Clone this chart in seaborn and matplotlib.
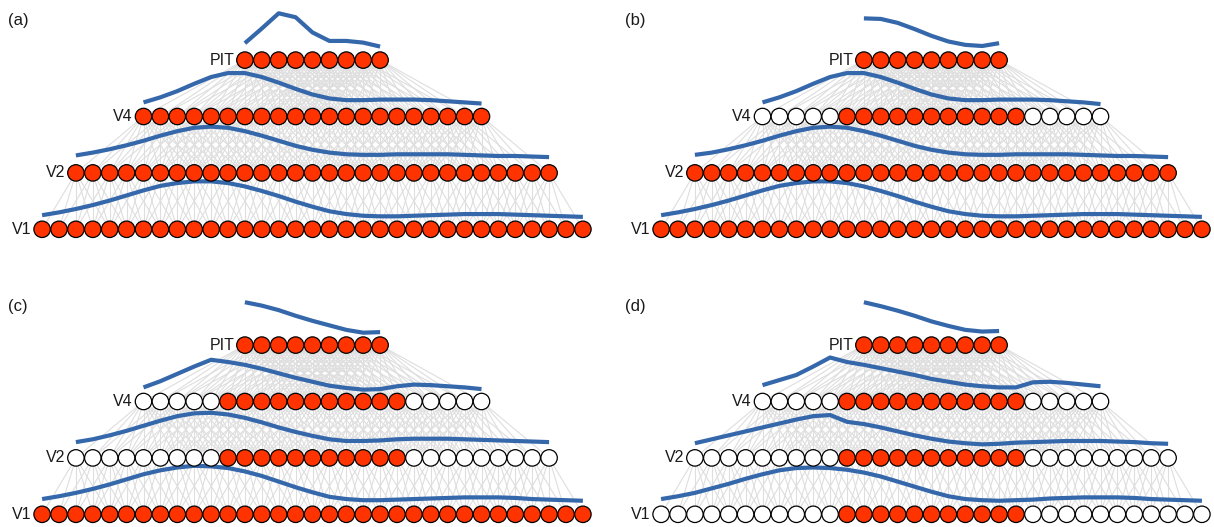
import numpy as np
import pandas as pd
import matplotlib
matplotlib.use("Agg")
import matplotlib.pyplot as plt
import seaborn as sns
from matplotlib.collections import LineCollection

sns.set_theme(style="white")
plt.rcParams['font.family'] = ['Liberation Sans', 'DejaVu Sans']

# ---------------- data ----------------
layers = ["V1", "V2", "V4", "PIT"]
layer_sizes = [33, 29, 21, 9]
panel_labels = ["(a)", "(b)", "(c)", "(d)"]

# number of inactive (white) units at each end of a layer, per panel (V1, V2, V4, PIT)
inactive_margin_a = [0, 0, 0, 0]
inactive_margin_b = [0, 0, 5, 0]
inactive_margin_c = [0, 9, 5, 0]
inactive_margin_d = [11, 9, 5, 0]

# activation profiles (height above row, in units of layer spacing)
curve_a_V1 = [0.25, 0.30, 0.36, 0.43, 0.51, 0.60, 0.69, 0.77, 0.82, 0.85, 0.85, 0.82, 0.76, 0.68, 0.59, 0.49, 0.40,
              0.32, 0.27, 0.24, 0.23, 0.23, 0.24, 0.25, 0.26, 0.27, 0.27, 0.27, 0.26, 0.25, 0.24, 0.23, 0.22]
curve_a_V2 = [0.31, 0.36, 0.42, 0.49, 0.57, 0.66, 0.74, 0.80, 0.82, 0.80, 0.74, 0.66, 0.57, 0.48, 0.41, 0.36, 0.33,
              0.32, 0.32, 0.33, 0.33, 0.33, 0.33, 0.32, 0.31, 0.30, 0.30, 0.29, 0.28]
curve_a_V4 = [0.25, 0.34, 0.45, 0.58, 0.70, 0.77, 0.77, 0.70, 0.60, 0.49, 0.39, 0.32, 0.29, 0.29, 0.30, 0.30, 0.30,
              0.29, 0.27, 0.25, 0.23]
curve_a_PIT = [0.30, 0.56, 0.83, 0.76, 0.49, 0.34, 0.34, 0.31, 0.24]

curve_b_V1 = [0.25, 0.30, 0.36, 0.43, 0.51, 0.60, 0.69, 0.77, 0.82, 0.85, 0.85, 0.82, 0.76, 0.68, 0.59, 0.49, 0.40,
              0.32, 0.27, 0.24, 0.23, 0.23, 0.24, 0.25, 0.26, 0.27, 0.27, 0.27, 0.26, 0.25, 0.24, 0.23, 0.22]
curve_b_V2 = [0.32, 0.36, 0.42, 0.49, 0.57, 0.66, 0.74, 0.80, 0.82, 0.80, 0.74, 0.66, 0.57, 0.48, 0.41, 0.36, 0.33,
              0.32, 0.32, 0.33, 0.33, 0.33, 0.33, 0.32, 0.31, 0.30, 0.30, 0.29, 0.28]
curve_b_V4 = [0.25, 0.34, 0.45, 0.58, 0.70, 0.77, 0.77, 0.70, 0.60, 0.49, 0.39, 0.32, 0.29, 0.29, 0.30, 0.30, 0.30,
              0.29, 0.27, 0.25, 0.22]
curve_b_PIT = [0.74, 0.73, 0.66, 0.55, 0.43, 0.33, 0.27, 0.25, 0.30]

curve_c_V1 = [0.27, 0.32, 0.38, 0.45, 0.53, 0.62, 0.71, 0.78, 0.83, 0.86, 0.85, 0.82, 0.76, 0.68, 0.58, 0.48, 0.39,
              0.31, 0.27, 0.25, 0.25, 0.26, 0.27, 0.28, 0.29, 0.30, 0.30, 0.30, 0.29, 0.27, 0.26, 0.25, 0.24]
curve_c_V2 = [0.28, 0.33, 0.40, 0.48, 0.57, 0.66, 0.74, 0.79, 0.80, 0.77, 0.71, 0.63, 0.54, 0.46, 0.39, 0.33, 0.30,
              0.30, 0.31, 0.33, 0.34, 0.34, 0.34, 0.33, 0.32, 0.31, 0.30, 0.29, 0.28]
curve_c_V4 = [0.25, 0.36, 0.49, 0.62, 0.74, 0.70, 0.65, 0.58, 0.50, 0.42, 0.35, 0.28, 0.24, 0.21, 0.22, 0.27, 0.30,
              0.29, 0.27, 0.25, 0.22]
curve_c_PIT = [0.76, 0.70, 0.62, 0.52, 0.43, 0.35, 0.27, 0.22, 0.23]

curve_d_V1 = [0.27, 0.32, 0.38, 0.46, 0.54, 0.63, 0.71, 0.78, 0.82, 0.83, 0.82, 0.79, 0.74, 0.67, 0.58, 0.49, 0.40,
              0.32, 0.27, 0.25, 0.24, 0.25, 0.26, 0.28, 0.29, 0.30, 0.30, 0.30, 0.29, 0.27, 0.26, 0.25, 0.24]
curve_d_V2 = [0.26, 0.33, 0.40, 0.47, 0.54, 0.61, 0.68, 0.74, 0.76, 0.64, 0.60, 0.54, 0.47, 0.40, 0.34, 0.29, 0.26,
              0.24, 0.25, 0.27, 0.28, 0.29, 0.30, 0.30, 0.30, 0.29, 0.28, 0.26, 0.25]
curve_d_V4 = [0.29, 0.38, 0.47, 0.62, 0.78, 0.70, 0.65, 0.59, 0.53, 0.47, 0.40, 0.35, 0.30, 0.27, 0.25, 0.25, 0.34,
              0.35, 0.33, 0.30, 0.27]
curve_d_PIT = [0.76, 0.69, 0.61, 0.52, 0.42, 0.34, 0.27, 0.24, 0.25]

panels = [
    (inactive_margin_a, [curve_a_V1, curve_a_V2, curve_a_V4, curve_a_PIT]),
    (inactive_margin_b, [curve_b_V1, curve_b_V2, curve_b_V4, curve_b_PIT]),
    (inactive_margin_c, [curve_c_V1, curve_c_V2, curve_c_V4, curve_c_PIT]),
    (inactive_margin_d, [curve_d_V1, curve_d_V2, curve_d_V4, curve_d_PIT]),
]

# ---------------- style / layout ----------------
W, H = 1214, 527
RED = "#ff3300"
BLUE = "#3567ab"
GRAY = "#dedede"
NODE_DX = 16.9     # px per node
LAYER_DY = 56.4    # px per layer
panel_px = [  # (x0, y0, width, height, center_x, row_V1_y, label_x, label_y)
    (0, 0, 607, 263.5, 312.5, 229.3, 8, 21),
    (607, 0, 607, 263.5, 931.5, 229.3, 625, 21),
    (0, 263.5, 607, 263.5, 312.5, 514.3, 8, 307),
    (607, 263.5, 607, 263.5, 931.5, 514.3, 625, 307),
]

fig = plt.figure(figsize=(W / 100, H / 100), dpi=100)
fig.patch.set_facecolor("white")

for (margins, curves), lab, (x0, y0, pw, ph, cx, ry, lx, ly) in zip(panels, panel_labels, panel_px):
    ax = fig.add_axes([x0 / W, 1 - (y0 + ph) / H, pw / W, ph / H])
    ax.set_xlim((x0 - cx) / NODE_DX, (x0 + pw - cx) / NODE_DX)
    ax.set_ylim((ry - (y0 + ph)) / LAYER_DY, (ry - y0) / LAYER_DY)
    ax.set_axis_off()

    xs = [np.arange(n) - (n - 1) / 2 for n in layer_sizes]

    # connections between consecutive layers (local receptive fields)
    segs = []
    for li in range(len(layers) - 1):
        lo, up = layer_sizes[li], layer_sizes[li + 1]
        fan = lo - up + 1
        for j in range(up):
            for k in range(j, j + fan):
                segs.append([(xs[li + 1][j], li + 1), (xs[li][k], li)])
    ax.add_collection(LineCollection(segs, colors=GRAY, linewidths=0.8, zorder=1))

    for li, (name, n) in enumerate(zip(layers, layer_sizes)):
        m = margins[li]
        active = [(m <= i < n - m) for i in range(n)]
        df = pd.DataFrame({"x": xs[li], "y": np.full(n, float(li)), "active": active,
                           "curve": li + np.array(curves[li])})
        sns.lineplot(data=df, x="x", y="curve", ax=ax, color=BLUE, lw=3.0, sort=True,
                     solid_capstyle="butt", zorder=3)
        sns.scatterplot(data=df, x="x", y="y", hue="active", palette={True: RED, False: "white"},
                        hue_order=[True, False], s=140, edgecolor="black", linewidth=0.9,
                        legend=False, ax=ax, zorder=4)
        ax.text(xs[li][0] - 0.62, li, name, ha="right", va="center", fontsize=11.5, color="#1a1a1a")

    ax.text((lx - x0) / pw, 1 - (ly - y0) / ph, lab, transform=ax.transAxes, ha="left", va="center",
            fontsize=12, color="#1a1a1a")

fig.savefig("out.png", dpi=100, facecolor="white")
